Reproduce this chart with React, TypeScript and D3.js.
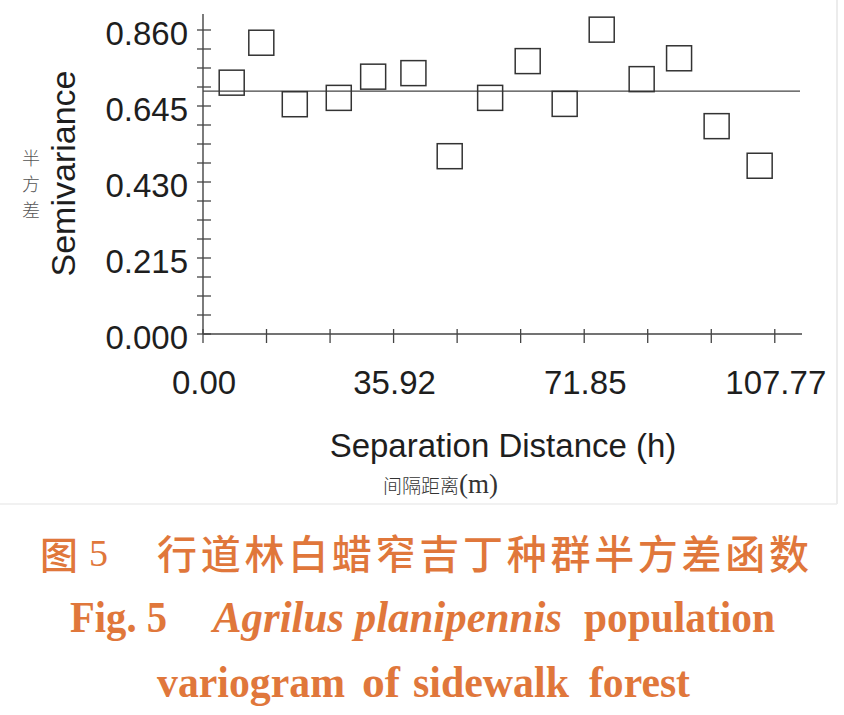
import React, { useEffect, useRef } from 'react';
import * as d3 from 'd3';

// lag distance (m) and semivariance
const lagDistance = [5.41, 10.99, 17.3, 25.59, 32.07, 39.66, 46.5, 54.12, 61.2, 68.17, 75.15, 82.68, 89.73, 96.81, 104.92];
const semivariance = [0.711, 0.824, 0.65, 0.668, 0.728, 0.738, 0.503, 0.668, 0.772, 0.651, 0.861, 0.721, 0.78, 0.588, 0.476];
const sill = 0.687;

const xTicks = [0, 11.97, 23.95, 35.92, 47.9, 59.87, 71.85, 83.82, 95.8, 107.77];
const xTickLabels = ['0.00', '35.92', '71.85', '107.77'];
const yTicks = d3.range(17).map(i => i * 0.05375);
const yTickLabels = ['0.000', '0.215', '0.430', '0.645', '0.860'];

const ORANGE = '#e0773b';
const INK = '#1e1e1e';

const App: React.FC = () => {
  const svgRef = useRef<SVGSVGElement | null>(null);

  useEffect(() => {
    if (!svgRef.current) return;
    const svg = d3.select(svgRef.current);
    svg.selectAll('*').remove();

    const x = d3.scaleLinear().domain([0, 112.9]).range([203, 802]);
    const y = d3.scaleLinear().domain([0, 0.86]).range([334, 30]);

    svg.append('rect').attr('width', 844).attr('height', 715).attr('fill', '#fff');

    // faint frame of the figure image
    svg.append('line').attr('x1', 837).attr('x2', 837).attr('y1', 0).attr('y2', 504)
      .attr('stroke', '#e6e6e6').attr('stroke-width', 1.5);
    svg.append('line').attr('x1', 0).attr('x2', 837).attr('y1', 504).attr('y2', 504)
      .attr('stroke', '#ececec').attr('stroke-width', 1.5);

    const g = svg.append('g');

    // axes lines
    g.append('line').attr('x1', x(0)).attr('x2', x(0)).attr('y1', y(0.905)).attr('y2', y(0))
      .attr('stroke', '#444').attr('stroke-width', 1.4);
    g.append('line').attr('x1', x(0)).attr('x2', x(112.9)).attr('y1', y(0)).attr('y2', y(0))
      .attr('stroke', '#444').attr('stroke-width', 1.4);

    // y ticks (crossing)
    g.selectAll('line.ytick').data(yTicks).enter().append('line')
      .attr('class', 'ytick')
      .attr('x1', x(0) - 6).attr('x2', x(0) + 8)
      .attr('y1', d => y(d)).attr('y2', d => y(d))
      .attr('stroke', '#444').attr('stroke-width', 1.3);

    g.selectAll('text.ylab').data(yTickLabels).enter().append('text')
      .attr('class', 'ylab')
      .attr('x', 188)
      .attr('y', (d, i) => y(yTicks[i * 4]) + 14.5)
      .attr('text-anchor', 'end')
      .attr('font-family', 'Liberation Sans, Arial, sans-serif')
      .attr('font-size', 33)
      .attr('fill', INK)
      .text(d => d);

    // x ticks
    g.selectAll('line.xtick').data(xTicks).enter().append('line')
      .attr('class', 'xtick')
      .attr('x1', d => x(d)).attr('x2', d => x(d))
      .attr('y1', y(0) - 5).attr('y2', y(0) + 9)
      .attr('stroke', '#444').attr('stroke-width', 1.3);

    g.selectAll('text.xlab').data(xTickLabels).enter().append('text')
      .attr('class', 'xlab')
      .attr('x', (d, i) => x(xTicks[i * 3]) + 1)
      .attr('y', 394)
      .attr('text-anchor', 'middle')
      .attr('font-family', 'Liberation Sans, Arial, sans-serif')
      .attr('font-size', 33)
      .attr('fill', INK)
      .text(d => d);

    // sill line
    g.append('line').attr('x1', x(0)).attr('x2', 800).attr('y1', y(sill)).attr('y2', y(sill))
      .attr('stroke', '#444').attr('stroke-width', 1.4);

    // squares
    const size = 25;
    g.selectAll('rect.pt').data(lagDistance).enter().append('rect')
      .attr('class', 'pt')
      .attr('x', d => x(d) - size / 2)
      .attr('y', (d, i) => y(semivariance[i]) - size / 2)
      .attr('width', size).attr('height', size)
      .attr('fill', 'none')
      .attr('stroke', '#333').attr('stroke-width', 1.5);

    // axis titles
    g.append('text')
      .attr('transform', 'translate(75,173.5) rotate(-90)')
      .attr('text-anchor', 'middle')
      .attr('font-family', 'Liberation Sans, Arial, sans-serif')
      .attr('font-size', 34)
      .attr('fill', INK)
      .text('Semivariance');

    g.selectAll('text.cy').data(['半', '方', '差']).enter().append('text')
      .attr('class', 'cy')
      .attr('x', 31)
      .attr('y', (d, i) => 157 + i * 26)
      .attr('text-anchor', 'middle')
      .attr('dominant-baseline', 'central')
      .attr('font-family', 'Noto Sans CJK SC, sans-serif')
      .attr('font-weight', 300)
      .attr('font-size', 18)
      .attr('fill', '#555')
      .text(d => d);

    g.append('text')
      .attr('x', 503).attr('y', 457)
      .attr('text-anchor', 'middle')
      .attr('font-family', 'Liberation Sans, Arial, sans-serif')
      .attr('font-size', 33)
      .attr('fill', INK)
      .text('Separation Distance (h)');

    const xsub = g.append('text').attr('x', 383).attr('y', 493).attr('fill', '#333');
    xsub.append('tspan')
      .attr('font-family', 'Noto Sans CJK SC, sans-serif')
      .attr('font-weight', 300)
      .attr('font-size', 19)
      .text('间隔距离');
    xsub.append('tspan')
      .attr('font-family', 'Liberation Serif, Times New Roman, serif')
      .attr('font-size', 27)
      .text('(m)');

    // caption
    const cap = svg.append('g').attr('fill', ORANGE);
    cap.append('text')
      .attr('x', 40).attr('y', 552)
      .attr('dominant-baseline', 'central')
      .attr('font-family', 'Noto Sans CJK SC, sans-serif')
      .attr('font-weight', 500)
      .attr('font-size', 38)
      .text('图');
    cap.append('text')
      .attr('x', 89).attr('y', 566)
      .attr('font-family', 'Liberation Serif, Times New Roman, serif')
      .attr('font-size', 38)
      .text('5');
    cap.append('text')
      .attr('x', 157).attr('y', 552)
      .attr('dominant-baseline', 'central')
      .attr('font-family', 'Noto Sans CJK SC, sans-serif')
      .attr('font-weight', 500)
      .attr('font-size', 40)
      .attr('textLength', 652)
      .attr('lengthAdjust', 'spacing')
      .text('行道林白蜡窄吉丁种群半方差函数');

    const serif = 'Liberation Serif, Times New Roman, serif';
    const pieces: [string, number, number, number, boolean][] = [
      ['Fig. 5', 70, 97, 632, false],
      ['Agrilus planipennis', 213, 349, 632, true],
      ['population', 584, 191, 632, false],
      ['variogram', 157, 188, 697, false],
      ['of', 362, 38, 697, false],
      ['sidewalk', 413, 156, 697, false],
      ['forest', 589, 101, 697, false],
    ];
    pieces.forEach(([t, px, w, py, it]) => {
      cap.append('text')
        .attr('x', px).attr('y', py)
        .attr('font-family', serif)
        .attr('font-weight', 'bold')
        .attr('font-style', it ? 'italic' : 'normal')
        .attr('font-size', 45)
        .attr('textLength', w)
        .attr('lengthAdjust', 'spacingAndGlyphs')
        .text(t);
    });
  }, []);

  return (
    <svg
      ref={svgRef}
      width={844}
      height={715}
      style={{ position: 'absolute', left: 0, top: 0, display: 'block' }}
    />
  );
};

export default App;
